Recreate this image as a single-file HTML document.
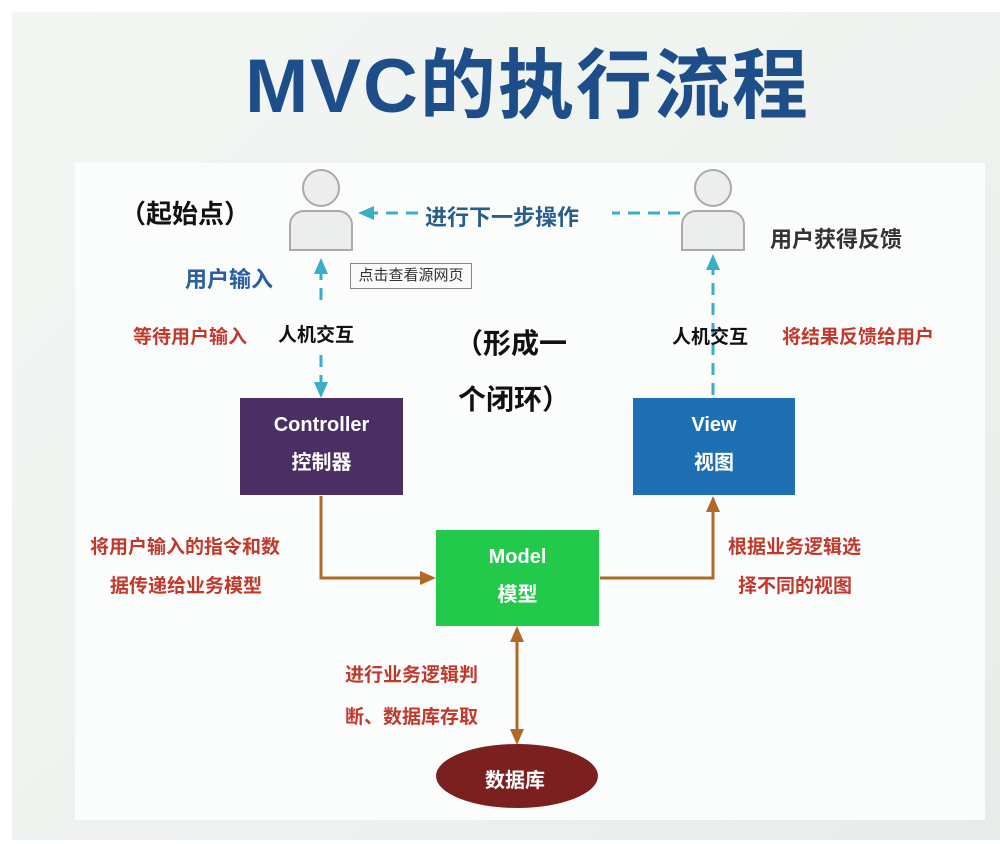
<!DOCTYPE html>
<html><head><meta charset="utf-8"><style>
body{margin:0;width:1000px;height:844px;background:#fff;position:relative;overflow:hidden;font-family:"Liberation Sans","Noto Sans CJK SC",sans-serif}
.t{position:absolute;white-space:nowrap;font-weight:bold}
.r{color:#c0392b;font-size:19px}
.box{position:absolute;color:#fff;font-weight:bold;text-align:center;font-size:20px;line-height:38px}
</style></head><body>
<div style="position:absolute;left:12px;top:12px;width:988px;height:828px;background:linear-gradient(135deg,#f3f6f3,#eef2ef 60%,#e8ece9)"></div>
<div style="position:absolute;left:75px;top:163px;width:910px;height:657px;background:#fbfcfc"></div>
<div class="t" style="left:245px;top:24px;font-size:76px;color:#1d4e89;letter-spacing:2px">MVC的执行流程</div>
<svg style="position:absolute;left:0;top:0" width="1000" height="844">
<defs>
<marker id="a" markerUnits="userSpaceOnUse" markerWidth="16" markerHeight="16" refX="12" refY="8" orient="auto"><path d="M0,1L16,8L0,15z" fill="#3aaec5"/></marker>
<marker id="b" markerUnits="userSpaceOnUse" markerWidth="16" markerHeight="16" refX="12" refY="8" orient="auto"><path d="M0,1L16,8L0,15z" fill="#b06a25"/></marker>
<marker id="bs" markerUnits="userSpaceOnUse" markerWidth="16" markerHeight="16" refX="4" refY="8" orient="auto"><path d="M16,1L0,8L16,15z" fill="#b06a25"/></marker>
</defs>
<g fill="#eceeee" stroke="#aaa" stroke-width="2">
<circle cx="321" cy="188" r="18"/><path d="M290,250 v-25 a14,14 0 0 1 14,-14 h34 a14,14 0 0 1 14,14 v25 z"/>
<circle cx="713" cy="188" r="18"/><path d="M682,250 v-25 a14,14 0 0 1 14,-14 h34 a14,14 0 0 1 14,14 v25 z"/>
</g>
<g stroke="#3aaec5" stroke-width="3" stroke-dasharray="12,8" fill="none">
<line x1="680" y1="213" x2="612" y2="213"/><line x1="418" y1="213" x2="362" y2="213" marker-end="url(#a)"/>
<line x1="321" y1="300" x2="321" y2="262" marker-end="url(#a)"/>
<line x1="321" y1="355" x2="321" y2="394" marker-end="url(#a)"/>
<line x1="713" y1="395" x2="713" y2="258" marker-end="url(#a)"/>
</g>
<g stroke="#b06a25" stroke-width="3" fill="none">
<polyline points="321,496 321,578 432,578" marker-end="url(#b)"/>
<polyline points="600,578 713,578 713,500" marker-end="url(#b)"/>
<line x1="517" y1="630" x2="517" y2="741" marker-end="url(#b)" marker-start="url(#bs)"/>
</g>
<ellipse cx="517" cy="776" rx="81" ry="32" fill="#7b1f1f"/>
</svg>
<div class="box" style="left:240px;top:398px;width:163px;height:97px;background:#4b2e63;padding-top:8px;box-sizing:border-box">Controller<br>控制器</div>
<div class="box" style="left:633px;top:398px;width:162px;height:97px;background:#1f6fb5;padding-top:8px;box-sizing:border-box">View<br>视图</div>
<div class="box" style="left:436px;top:530px;width:163px;height:96px;background:#22c94a;padding-top:8px;box-sizing:border-box">Model<br>模型</div>
<div class="t" style="left:485px;top:764px;color:#fff;font-size:20px">数据库</div>
<div class="t" style="left:120px;top:194px;font-size:26px;color:#111">（起始点）</div>
<div class="t" style="left:425px;top:200px;font-size:22px;color:#2a5e8a">进行下一步操作</div>
<div class="t" style="left:185px;top:262px;font-size:22px;color:#2a5ea0">用户输入</div>
<div class="t" style="left:770px;top:222px;font-size:22px;color:#333">用户获得反馈</div>
<div style="position:absolute;left:350px;top:263px;width:120px;height:24px;border:1px solid #888;background:#fafafa;font-size:15px;line-height:24px;text-align:center;color:#333">点击查看源网页</div>
<div class="t r" style="left:133px;top:322px">等待用户输入</div>
<div class="t" style="left:278px;top:320px;font-size:19px;color:#111">人机交互</div>
<div class="t" style="left:672px;top:322px;font-size:19px;color:#111">人机交互</div>
<div class="t r" style="left:782px;top:322px">将结果反馈给用户</div>
<div class="t" style="left:455px;top:322px;font-size:28px;color:#111">（形成一</div>
<div class="t" style="left:458px;top:378px;font-size:28px;color:#111">个闭环）</div>
<div class="t r" style="left:90px;top:532px">将用户输入的指令和数</div>
<div class="t r" style="left:110px;top:571px">据传递给业务模型</div>
<div class="t r" style="left:728px;top:532px">根据业务逻辑选</div>
<div class="t r" style="left:738px;top:571px">择不同的视图</div>
<div class="t r" style="left:345px;top:660px">进行业务逻辑判</div>
<div class="t r" style="left:345px;top:702px">断、数据库存取</div>
</body></html>
